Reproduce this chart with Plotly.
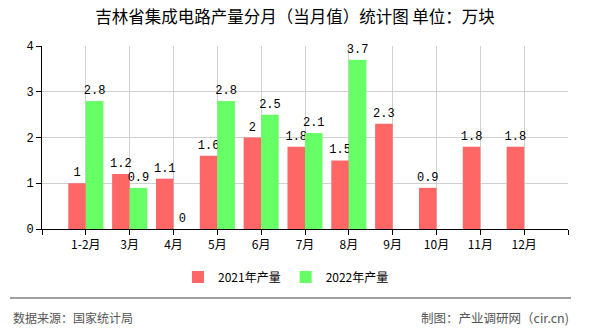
import plotly.graph_objects as go

categories = ["1-2月", "3月", "4月", "5月", "6月", "7月", "8月", "9月", "10月", "11月", "12月"]
values_2021 = [1, 1.2, 1.1, 1.6, 2, 1.8, 1.5, 2.3, 0.9, 1.8, 1.8]
values_2022 = [2.8, 0.9, 0, 2.8, 2.5, 2.1, 3.7, None, None, None, None]
series_names = ["2021年产量", "2022年产量"]
y_ticks = [0, 1, 2, 3, 4]

W, H = 590, 330
L, R, T, B = 42, 22, 46, 101
PW, PH = W - L - R, H - T - B

def px_x(x):
    return (x - L) / PW

def px_y(y):
    return (H - B - y) / PH

x_idx = list(range(len(categories)))
tickvals = [-1] + x_idx + [len(categories)]
ticktext = [""] + categories + [""]

label_font = dict(family="Liberation Mono, DejaVu Sans Mono, monospace", size=12, color="#000")
cjk = "SimSun, Noto Sans CJK SC, sans-serif"

fig = go.Figure()
fig.add_trace(go.Bar(
    x=x_idx, y=values_2021, name=series_names[0],
    marker=dict(color="#FF6666", line=dict(width=0)),
    text=[str(v) for v in values_2021], textposition="outside",
    textfont=label_font, cliponaxis=False, constraintext="none",
))
fig.add_trace(go.Bar(
    x=x_idx, y=values_2022, name=series_names[1],
    marker=dict(color="#66FF66", line=dict(width=0)),
    text=["" if v is None else str(v) for v in values_2022], textposition="outside",
    textfont=label_font, cliponaxis=False, constraintext="none",
))

fig.update_layout(
    width=W, height=H,
    margin=dict(l=L, r=R, t=T, b=B, pad=0),
    paper_bgcolor="white", plot_bgcolor="white",
    barmode="group", bargap=0.2, bargroupgap=0,
    title=dict(text="吉林省集成电路产量分月（当月值）统计图 单位：万块",
               x=0.5, xanchor="center", y=1 - 17.5 / H, yanchor="middle",
               font=dict(family=cjk, size=16.5, color="#000")),
    showlegend=True,
    legend=dict(orientation="h", x=px_x(286), xanchor="center", y=px_y(277), yanchor="middle",
                font=dict(family=cjk, size=12, color="#000"),
                itemwidth=30, tracegroupgap=0, bgcolor="rgba(0,0,0,0)"),
    uniformtext=dict(mode=False),
)
fig.update_xaxes(
    range=[-1, len(categories)], tickmode="array", tickvals=tickvals, ticktext=ticktext,
    showgrid=True, gridcolor="#d0d0d0", gridwidth=1,
    showline=True, linecolor="#000", linewidth=1,
    ticks="outside", ticklen=5, tickcolor="#000",
    tickfont=dict(family=cjk, size=12, color="#000"),
    zeroline=False, fixedrange=True,
)
fig.update_yaxes(
    range=[0, 4], tickmode="array", tickvals=y_ticks,
    showgrid=True, gridcolor="#d0d0d0", gridwidth=1,
    showline=True, linecolor="#000", linewidth=1,
    ticks="outside", ticklen=5, tickcolor="#000",
    tickfont=dict(family="Liberation Mono, monospace", size=12, color="#000"),
    zeroline=False, fixedrange=True,
)

fig.add_shape(type="line", xref="paper", yref="paper",
              x0=px_x(10), x1=px_x(571), y0=px_y(298), y1=px_y(298),
              line=dict(color="#808080", width=1.5))
fig.add_annotation(text="数据来源：国家统计局", xref="paper", yref="paper",
                   x=px_x(11), y=px_y(317), xanchor="left", yanchor="middle",
                   showarrow=False, font=dict(family=cjk, size=12, color="#555"))
fig.add_annotation(text="制图：产业调研网（cir.cn)", xref="paper", yref="paper",
                   x=px_x(571), y=px_y(317), xanchor="right", yanchor="middle",
                   showarrow=False, font=dict(family=cjk, size=12.5, color="#555"))

fig.write_html("out.html", config={"displayModeBar": False})
